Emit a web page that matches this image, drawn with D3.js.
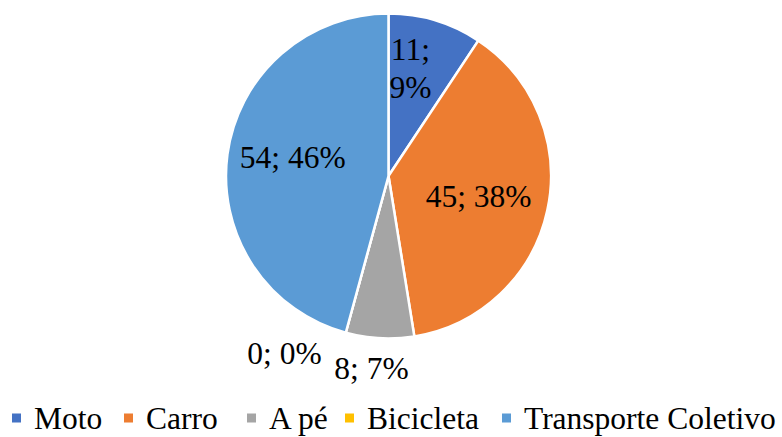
<!DOCTYPE html>
<html>
<head>
  <meta charset="utf-8">
  <title>Pie - meio de transporte</title>
  <style>
    body { margin: 0; background: #fff; }
  </style>
</head>
<body>
  <svg width="782" height="437"></svg>
  <script src="https://d3js.org/d3.v7.min.js"></script>
  <script>

  // dados
  var categories = ["Moto", "Carro", "A pé", "Bicicleta", "Transporte Coletivo"];
  var values = [11, 45, 8, 0, 54];
  var colors = ["#4472C4", "#ED7D31", "#A5A5A5", "#FFC000", "#5B9BD5"];
  // posição dos rótulos: raio relativo e ajuste de ângulo (graus)
  var labelRadius = [0.66, 0.57, 1.19, 1.27, 0.6];
  var labelNudge = [-5, 1, 2, 15, 3];

  var svg = d3.select("svg");
  var cx = 388.5, cy = 176, R = 162.5;
  var total = d3.sum(values);
  var fontFam = "'Liberation Serif'";

  var pie = d3.pie().sort(null).value(function(d) { return d; });
  var arcs = pie(values);
  var arc = d3.arc().innerRadius(0).outerRadius(R);

  var g = svg.append("g").attr("transform", "translate(" + cx + "," + cy + ")");

  g.selectAll("path")
    .data(arcs)
    .enter()
    .append("path")
    .attr("d", arc)
    .attr("fill", function(d, i) { return colors[i]; })
    .attr("stroke", "#fff")
    .attr("stroke-width", 2.5)
    .attr("stroke-linejoin", "round");

  // rótulos
  g.selectAll(".lbl")
    .data(arcs)
    .enter()
    .append("text")
    .attr("class", "lbl")
    .attr("text-anchor", "middle")
    .style("font-family", fontFam)
    .style("font-size", "31.5px")
    .attr("fill", "#000")
    .each(function(d, i) {
      var a = (d.startAngle + d.endAngle) / 2 + labelNudge[i] * Math.PI / 180;
      var r = labelRadius[i] * R;
      var x = Math.sin(a) * r, y = -Math.cos(a) * r;
      var pct = Math.round(values[i] / total * 100) + "%";
      var t = d3.select(this);
      if (i === 0) {
        t.append("tspan").attr("x", x).attr("y", y - 11).text(values[i] + ";");
        t.append("tspan").attr("x", x).attr("y", y + 27).text(pct);
      } else {
        t.attr("x", x).attr("y", y + 10).text(values[i] + "; " + pct);
      }
    });

  // legenda
  var legendX = [12, 124, 247, 345, 502];
  var leg = svg.selectAll(".leg")
    .data(categories)
    .enter()
    .append("g")
    .attr("class", "leg")
    .attr("transform", function(d, i) { return "translate(" + legendX[i] + ",0)"; });

  leg.append("rect")
    .attr("x", 0)
    .attr("y", 413.5)
    .attr("width", 9)
    .attr("height", 9)
    .attr("fill", function(d, i) { return colors[i]; });

  leg.append("text")
    .attr("x", 22)
    .attr("y", 429)
    .style("font-family", fontFam)
    .style("font-size", "31.5px")
    .attr("fill", "#000")
    .text(function(d) { return d; });

  </script>
</body>
</html>
